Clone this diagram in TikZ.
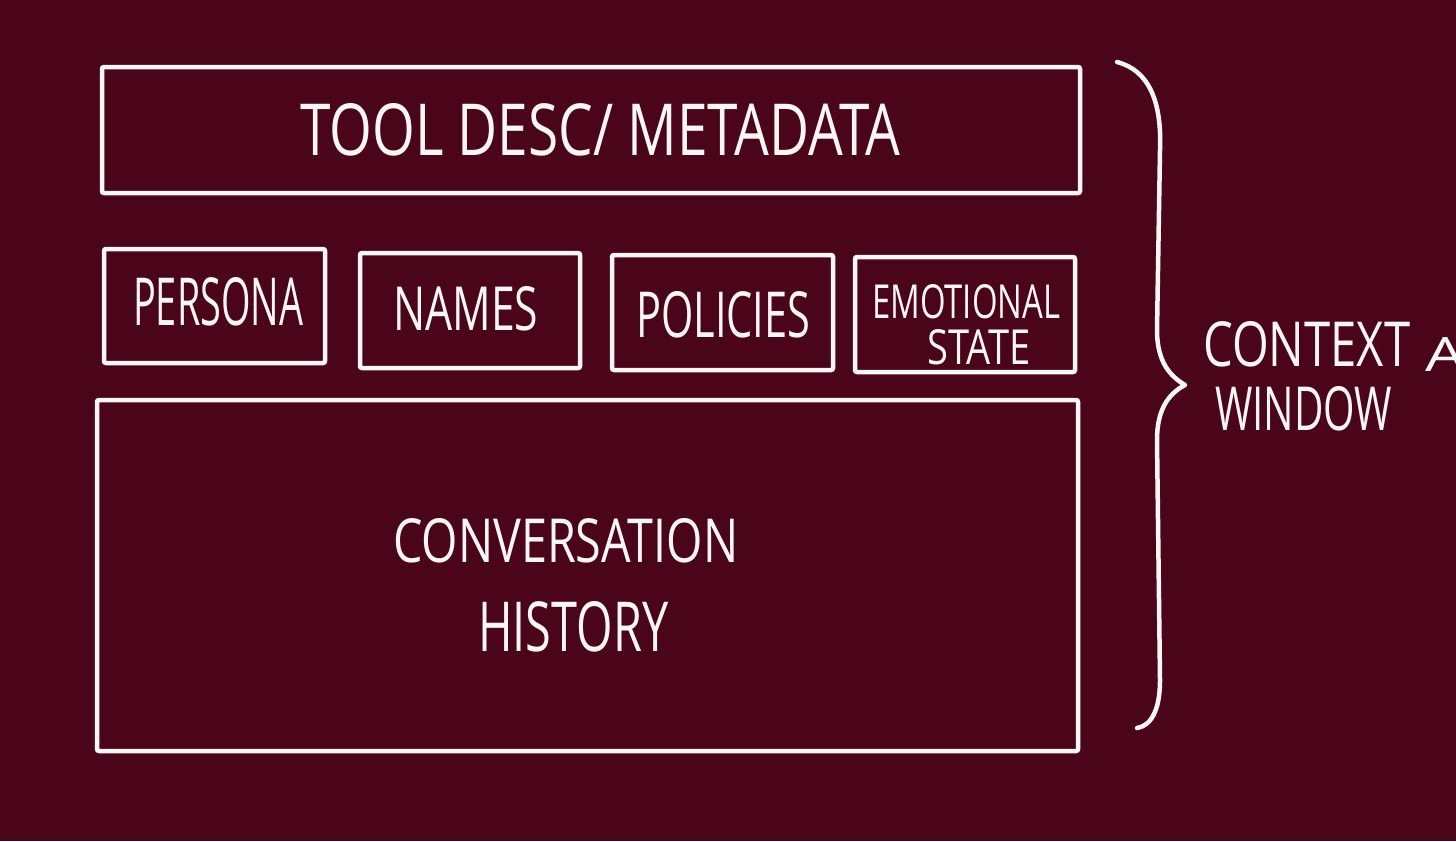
\documentclass[tikz,border=0pt]{standalone}
\usepackage{fontspec}
\setmainfont{Open Sans}
\usepackage{graphicx}
\definecolor{bgmaroon}{RGB}{75,5,27}
\definecolor{chalk}{RGB}{250,246,244}
\newcommand\fitto[3]{\resizebox{#1pt}{#2pt}{#3}}
\tikzset{
  boxline/.style={draw=chalk, line width=4.5pt, rounded corners=2pt},
  lbl/.style={text=chalk, inner sep=0pt, anchor=north west},
}
\begin{document}
\begin{tikzpicture}[x=1pt,y=-1pt]
\useasboundingbox (0,0) rectangle (1456,841);
\clip (0,0) rectangle (1456,841);
\fill[bgmaroon] (0,0) rectangle (1456,841);
% boxes
\draw[boxline] (102,67) rectangle (1080,193);
\draw[boxline] (104,249) rectangle (325,363);
\draw[boxline] (360,253) rectangle (580,368);
\draw[boxline] (612,255) rectangle (833,370);
\draw[boxline] (855,257) rectangle (1075,372);
\draw[boxline] (97,400) rectangle (1078,751);
% labels
\node[lbl] (tool) at (300,103) {\fitto{600}{52}{TOOL DESC/ METADATA}};
\node[lbl] (persona) at (133,277) {\fitto{170}{48}{PERSONA}};
\node[lbl] (names) at (393,286) {\fitto{145}{44}{NAMES}};
\node[lbl] (policies) at (636,291) {\fitto{174}{46}{POLICIES}};
\node[lbl] (emo) at (872,284) {\fitto{188}{34}{EMOTIONAL}};
\node[lbl] (state) at (927,329) {\fitto{103}{35}{STATE}};
\node[lbl] (conv) at (393,518) {\fitto{345}{44}{CONVERSATION}};
\node[lbl] (hist) at (478,601) {\fitto{190}{50}{HISTORY}};
\node[lbl] (ctx) at (1203,321) {\fitto{207}{45}{CONTEXT}};
\node[lbl] (win) at (1215,386) {\fitto{177}{44}{WINDOW}};
\node[lbl] (cut) at (1425,337) {\fitto{40}{34}{A}};
% brace
\draw[chalk, line width=4.5pt, line cap=round, line join=round]
  (1117,62) .. controls (1148,70) and (1162,100) .. (1160,150)
  -- (1157,330) .. controls (1157,362) and (1170,376) .. (1185,385)
  .. controls (1168,394) and (1157,410) .. (1157,440)
  -- (1160,680) .. controls (1160,712) and (1150,726) .. (1137,728);
\end{tikzpicture}
\end{document}
